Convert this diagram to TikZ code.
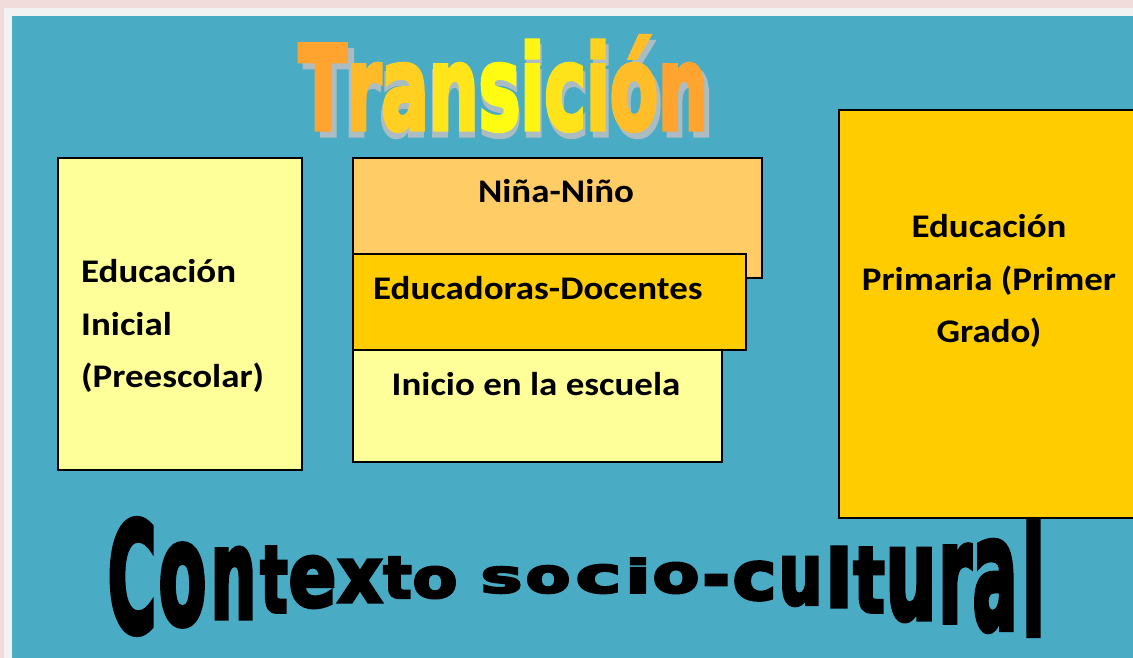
\documentclass[tikz,border=0pt]{standalone}
\usepackage{fontspec}
\setmainfont{Carlito}[FakeStretch=1.12]
\newfontfamily\titulofont{DejaVu Sans Condensed}[BoldFeatures={FakeBold=4}]

\definecolor{rosa}{HTML}{F2DCDB}
\definecolor{gris}{HTML}{F2F2F2}
\definecolor{turquesa}{HTML}{4AABC5}
\definecolor{amarillo}{HTML}{FFFF99}
\definecolor{naranja}{HTML}{FFCC66}
\definecolor{oro}{HTML}{FFCC00}
\definecolor{sombra}{HTML}{ABBCC2}
\definecolor{luz}{HTML}{FFFF10}
\definecolor{fuego}{HTML}{FF9A33}

\newcommand{\tonos}[2]{\textcolor{luz!#1!fuego}{#2}}

\begin{document}
\begin{tikzpicture}[x=1pt, y=-1pt,
  caja/.style={draw=black, line width=1.6pt, inner sep=0pt, anchor=north west},
  texto/.style={inner sep=0pt, font=\bfseries\fontsize{33}{38}\selectfont}]
\useasboundingbox (0,0) rectangle (1133,658);
\fill[rosa] (0,0) rectangle (1133,658);
\fill[gris] (4,8) rectangle (1133,658);
\fill[turquesa] (12,16) rectangle (1133,658);

\node[caja, fill=amarillo, minimum width=244pt, minimum height=312pt] (inicial) at (57,157) {};
\node[caja, fill=naranja, minimum width=409pt, minimum height=120pt] (nino) at (352,157) {};
\node[caja, fill=amarillo, minimum width=369pt, minimum height=112pt] (escuela) at (352,349) {};
\node[caja, fill=oro, minimum width=393pt, minimum height=96pt] (docentes) at (352,253) {};
\node[caja, fill=oro, minimum width=302pt, minimum height=408pt] (primaria) at (838,109) {};

\node[texto, anchor = base west] (ini1) at (81,282) {Educación};
\node[texto, anchor = base west] (ini2) at (81,335) {Inicial};
\node[texto, anchor = base west] (ini3) at (81,387) {(Preescolar)};
\node[texto, anchor = base] (nino-t) at (556,203) {Niña-Niño};
\node[texto, anchor = base west] (docentes-t) at (373,299) {Educadoras-Docentes};
\node[texto, anchor = base] (escuela-t) at (536,395) {Inicio en la escuela};
\node[texto, anchor = base] (pri1) at (989,237) {Educación};
\node[texto, anchor = base] (pri2) at (989,290) {Primaria (Primer};
\node[texto, anchor = base] (pri3) at (989,342) {Grado)};

\node[inner sep=0pt, text=sombra] (sombra) at (508.5,89.5)
  {\resizebox{409pt}{93pt}{\titulofont\bfseries Transición}};
\node[inner sep=0pt] (titulo) at (503.5,83.5)
  {\resizebox{409pt}{93pt}{\titulofont\bfseries\tonos{10}{T}\tonos{32}{r}\tonos{52}{a}\tonos{74}{n}\tonos{96}{s}\tonos{90}{i}\tonos{72}{c}\tonos{55}{i}\tonos{35}{ó}\tonos{10}{n}}};

\foreach \letra/\xa/\xb/\ya/\yb in {C/107/157/520/633, o/158/207/545/625, n/210/257/548/618,
    t/260/288/547/612, e/288/337/557/607, x/337/383/560/602, t/383/412/557/598, o/412/458/567/598,
    s/480/523/567/593, o/525/571/566/593, c/575/622/565/593, i/625/651/558/593, o/652/700/563/593,
    -/702/730/575/600, c/732/777/562/600, u/778/823/558/605, l/825/853/547/607, t/853/885/548/612,
    u/885/937/550/620, r/938/972/545/622, a/972/1018/542/630, l/1022/1045/522/635}{
  \pgfmathsetmacro\ancho{(\xb-\xa)*0.97}
  \pgfmathsetmacro\alto{\yb-\ya}
  \node[inner sep=0pt] (letra-\xa) at ({(\xa+\xb)/2},{(\ya+\yb)/2}) {\resizebox{\ancho pt}{\alto pt}{\titulofont\bfseries\letra}};
}
\end{tikzpicture}
\end{document}
